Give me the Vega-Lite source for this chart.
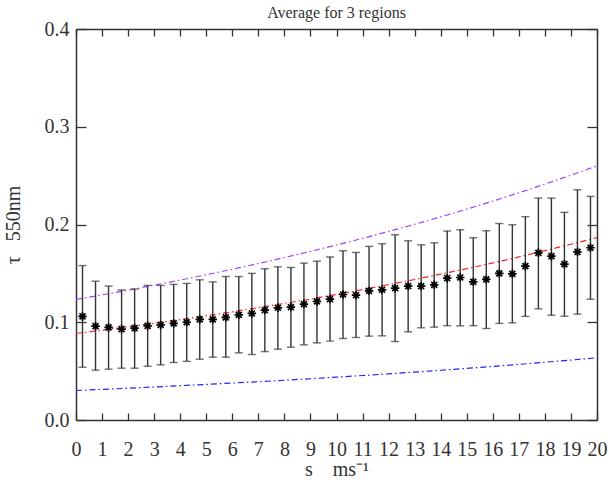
{
  "$schema": "https://vega.github.io/schema/vega-lite/v6.json",
  "autosize": "none",
  "width": 521,
  "height": 391,
  "padding": {"left": 76, "top": 29, "right": 12, "bottom": 72},
  "background": "white",
  "config": {
    "view": {"stroke": null},
    "font": "Liberation Serif",
    "axis": {"grid": false, "domainColor": "#333", "domainWidth": 1.5, "tickColor": "#333", "tickWidth": 1.3, "labelColor": "#333", "labelFont": "Liberation Serif", "labelFontSize": 20, "titleFont": "Liberation Serif", "titleFontWeight": "normal", "titleColor": "#333", "titleFontSize": 20}
  },
  "title": {"text": "Average for 3 regions", "fontSize": 16, "font": "Liberation Serif", "fontWeight": "normal", "color": "#333", "offset": -2, "anchor": "middle"},
  "datasets": {
    "pts": [
      {"x": 0.25, "y": 0.106, "lo": 0.054, "hi": 0.158},
      {"x": 0.75, "y": 0.096, "lo": 0.051, "hi": 0.142},
      {"x": 1.25, "y": 0.0947, "lo": 0.052, "hi": 0.137},
      {"x": 1.75, "y": 0.093, "lo": 0.053, "hi": 0.133},
      {"x": 2.25, "y": 0.094, "lo": 0.053, "hi": 0.134},
      {"x": 2.75, "y": 0.0963, "lo": 0.055, "hi": 0.1377},
      {"x": 3.25, "y": 0.0973, "lo": 0.0564, "hi": 0.1377},
      {"x": 3.75, "y": 0.0988, "lo": 0.0588, "hi": 0.1387},
      {"x": 4.25, "y": 0.1, "lo": 0.06, "hi": 0.1397},
      {"x": 4.75, "y": 0.1029, "lo": 0.0622, "hi": 0.1434},
      {"x": 5.25, "y": 0.103, "lo": 0.0643, "hi": 0.1413},
      {"x": 5.75, "y": 0.105, "lo": 0.0643, "hi": 0.1468},
      {"x": 6.25, "y": 0.1076, "lo": 0.0687, "hi": 0.1468},
      {"x": 6.75, "y": 0.109, "lo": 0.067, "hi": 0.15},
      {"x": 7.25, "y": 0.1124, "lo": 0.07, "hi": 0.1547},
      {"x": 7.75, "y": 0.1148, "lo": 0.0725, "hi": 0.1567},
      {"x": 8.25, "y": 0.1155, "lo": 0.0745, "hi": 0.156},
      {"x": 8.75, "y": 0.1186, "lo": 0.0769, "hi": 0.1605},
      {"x": 9.25, "y": 0.1213, "lo": 0.0789, "hi": 0.1625},
      {"x": 9.75, "y": 0.1237, "lo": 0.0807, "hi": 0.1667},
      {"x": 10.25, "y": 0.1284, "lo": 0.0834, "hi": 0.1731},
      {"x": 10.75, "y": 0.1277, "lo": 0.0844, "hi": 0.1714},
      {"x": 11.25, "y": 0.1321, "lo": 0.0858, "hi": 0.1776},
      {"x": 11.75, "y": 0.1332, "lo": 0.0861, "hi": 0.1803},
      {"x": 12.25, "y": 0.1349, "lo": 0.0803, "hi": 0.1895},
      {"x": 12.75, "y": 0.137, "lo": 0.0902, "hi": 0.1833},
      {"x": 13.25, "y": 0.137, "lo": 0.0943, "hi": 0.1792},
      {"x": 13.75, "y": 0.1383, "lo": 0.095, "hi": 0.1813},
      {"x": 14.25, "y": 0.1451, "lo": 0.0965, "hi": 0.1933},
      {"x": 14.75, "y": 0.1458, "lo": 0.0963, "hi": 0.1946},
      {"x": 15.25, "y": 0.1413, "lo": 0.0965, "hi": 0.1864},
      {"x": 15.75, "y": 0.1438, "lo": 0.0936, "hi": 0.1936},
      {"x": 16.25, "y": 0.15, "lo": 0.0988, "hi": 0.201},
      {"x": 16.75, "y": 0.1495, "lo": 0.0994, "hi": 0.1997},
      {"x": 17.25, "y": 0.1574, "lo": 0.106, "hi": 0.208},
      {"x": 17.75, "y": 0.171, "lo": 0.1137, "hi": 0.227},
      {"x": 18.25, "y": 0.1676, "lo": 0.1072, "hi": 0.227},
      {"x": 18.75, "y": 0.1594, "lo": 0.1062, "hi": 0.2124},
      {"x": 19.25, "y": 0.172, "lo": 0.1083, "hi": 0.2355},
      {"x": 19.75, "y": 0.1762, "lo": 0.1236, "hi": 0.2288}
    ],
    "curves": [
      {"series": "upper", "x": 0, "y": 0.1233}, {"series": "upper", "x": 1, "y": 0.128}, {"series": "upper", "x": 2, "y": 0.1328}, {"series": "upper", "x": 3, "y": 0.1379}, {"series": "upper", "x": 4, "y": 0.1431}, {"series": "upper", "x": 5, "y": 0.1486}, {"series": "upper", "x": 6, "y": 0.1542}, {"series": "upper", "x": 7, "y": 0.1601}, {"series": "upper", "x": 8, "y": 0.1662}, {"series": "upper", "x": 9, "y": 0.1725}, {"series": "upper", "x": 10, "y": 0.179}, {"series": "upper", "x": 11, "y": 0.1858}, {"series": "upper", "x": 12, "y": 0.1929}, {"series": "upper", "x": 13, "y": 0.2002}, {"series": "upper", "x": 14, "y": 0.2078}, {"series": "upper", "x": 15, "y": 0.2157}, {"series": "upper", "x": 16, "y": 0.2239}, {"series": "upper", "x": 17, "y": 0.2324}, {"series": "upper", "x": 18, "y": 0.2413}, {"series": "upper", "x": 19, "y": 0.2504}, {"series": "upper", "x": 20, "y": 0.26},
      {"series": "mid", "x": 0, "y": 0.0885}, {"series": "mid", "x": 1, "y": 0.0919}, {"series": "mid", "x": 2, "y": 0.0954}, {"series": "mid", "x": 3, "y": 0.099}, {"series": "mid", "x": 4, "y": 0.1027}, {"series": "mid", "x": 5, "y": 0.1066}, {"series": "mid", "x": 6, "y": 0.1107}, {"series": "mid", "x": 7, "y": 0.1149}, {"series": "mid", "x": 8, "y": 0.1193}, {"series": "mid", "x": 9, "y": 0.1238}, {"series": "mid", "x": 10, "y": 0.1285}, {"series": "mid", "x": 11, "y": 0.1334}, {"series": "mid", "x": 12, "y": 0.1385}, {"series": "mid", "x": 13, "y": 0.1437}, {"series": "mid", "x": 14, "y": 0.1492}, {"series": "mid", "x": 15, "y": 0.1548}, {"series": "mid", "x": 16, "y": 0.1607}, {"series": "mid", "x": 17, "y": 0.1668}, {"series": "mid", "x": 18, "y": 0.1732}, {"series": "mid", "x": 19, "y": 0.1798}, {"series": "mid", "x": 20, "y": 0.1866},
      {"series": "lower", "x": 0, "y": 0.0302}, {"series": "lower", "x": 1, "y": 0.0313}, {"series": "lower", "x": 2, "y": 0.0325}, {"series": "lower", "x": 3, "y": 0.0338}, {"series": "lower", "x": 4, "y": 0.0351}, {"series": "lower", "x": 5, "y": 0.0364}, {"series": "lower", "x": 6, "y": 0.0378}, {"series": "lower", "x": 7, "y": 0.0392}, {"series": "lower", "x": 8, "y": 0.0407}, {"series": "lower", "x": 9, "y": 0.0422}, {"series": "lower", "x": 10, "y": 0.0439}, {"series": "lower", "x": 11, "y": 0.0455}, {"series": "lower", "x": 12, "y": 0.0472}, {"series": "lower", "x": 13, "y": 0.049}, {"series": "lower", "x": 14, "y": 0.0509}, {"series": "lower", "x": 15, "y": 0.0528}, {"series": "lower", "x": 16, "y": 0.0548}, {"series": "lower", "x": 17, "y": 0.0569}, {"series": "lower", "x": 18, "y": 0.0591}, {"series": "lower", "x": 19, "y": 0.0613}, {"series": "lower", "x": 20, "y": 0.0637}
    ]
  },
  "resolve": {"axis": {"x": "independent", "y": "independent"}},
  "layer": [
    {
      "data": {"name": "curves"},
      "mark": {"type": "line", "strokeWidth": 1.2, "strokeDash": [6, 3, 1.5, 3]},
      "encoding": {
        "x": {"field": "x", "type": "quantitative", "scale": {"domain": [0, 20], "nice": false},
          "axis": {"orient": "bottom", "values": [0,1,2,3,4,5,6,7,8,9,10,11,12,13,14,15,16,17,18,19,20], "tickSize": -7, "labelPadding": 26, "labelAngle": 0, "labelFlush": false, "labelOverlap": false, "title": "s\u00a0\u00a0\u00a0\u00a0ms⁻¹", "titlePadding": 0}},
        "y": {"field": "y", "type": "quantitative", "scale": {"domain": [0, 0.4], "nice": false},
          "axis": {"orient": "left", "values": [0, 0.1, 0.2, 0.3, 0.4], "format": ".1f", "tickSize": -10, "labelPadding": 17, "labelFlush": false, "title": "τ\u00a0\u00a0\u00a0550nm", "titlePadding": 21}},
        "color": {"field": "series", "type": "nominal", "scale": {"domain": ["upper", "mid", "lower"], "range": ["#a040ff", "#ff2020", "#2020ff"]}, "legend": null}
      }
    },
    {
      "data": {"name": "pts"},
      "mark": {"type": "rule", "color": "#333", "strokeWidth": 1.4},
      "encoding": {
        "x": {"field": "x", "type": "quantitative", "axis": {"orient": "top", "values": [0,1,2,3,4,5,6,7,8,9,10,11,12,13,14,15,16,17,18,19,20], "tickSize": -7, "labels": false, "title": null}},
        "y": {"field": "lo", "type": "quantitative", "axis": {"orient": "right", "values": [0, 0.1, 0.2, 0.3, 0.4], "tickSize": -10, "labels": false, "title": null}},
        "y2": {"field": "hi"}
      }
    },
    {
      "data": {"name": "pts"},
      "mark": {"type": "tick", "orient": "horizontal", "color": "#333", "size": 8, "thickness": 1.4},
      "encoding": {
        "x": {"field": "x", "type": "quantitative", "axis": null},
        "y": {"field": "lo", "type": "quantitative", "axis": null}
      }
    },
    {
      "data": {"name": "pts"},
      "mark": {"type": "tick", "orient": "horizontal", "color": "#333", "size": 8, "thickness": 1.4},
      "encoding": {
        "x": {"field": "x", "type": "quantitative", "axis": null},
        "y": {"field": "hi", "type": "quantitative", "axis": null}
      }
    },
    {
      "data": {"name": "pts"},
      "mark": {"type": "point", "shape": "M-1,0L1,0M0,-1L0,1M-0.7,-0.7L0.7,0.7M-0.7,0.7L0.7,-0.7", "size": 72, "filled": false, "stroke": "black", "strokeWidth": 1.7, "opacity": 1},
      "encoding": {
        "x": {"field": "x", "type": "quantitative", "axis": null},
        "y": {"field": "y", "type": "quantitative", "axis": null}
      }
    }
  ]
}
